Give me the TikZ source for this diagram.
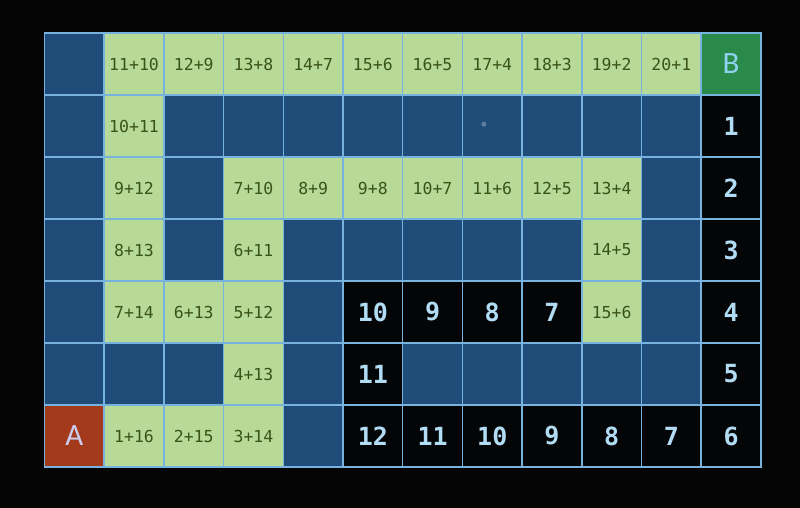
\documentclass[tikz,border=0pt]{standalone}
\usepackage{fontspec}
\newfontfamily\cellfont{DejaVu Sans Mono}
\newfontfamily\letterfont{Carlito}
\definecolor{bgc}{HTML}{050505}
\definecolor{gridc}{HTML}{78B2DE}
\definecolor{bluec}{HTML}{1F4C79}
\definecolor{greenc}{HTML}{B7DA98}
\definecolor{gtext}{HTML}{3A5318}
\definecolor{blackc}{HTML}{030507}
\definecolor{ktext}{HTML}{B2DCF4}
\definecolor{redc}{HTML}{A33A1C}
\definecolor{atext}{HTML}{CCCCF0}
\definecolor{bgreen}{HTML}{2A8A4A}
\definecolor{btext}{HTML}{8FD2F0}
\definecolor{dotc}{HTML}{5C7FA3}
\tikzset{
  cell/.style={draw=gridc, line width=1.5pt, minimum width=59.7pt, minimum height=62pt, inner sep=0pt, anchor=center},
  ucell/.style={cell, fill=bluec},
  gcell/.style={cell, fill=greenc, text=gtext, font=\cellfont\fontsize{16.5}{16.5}\selectfont},
  kcell/.style={cell, fill=blackc, text=ktext, font=\cellfont\bfseries\fontsize{25}{25}\selectfont},
  acell/.style={cell, fill=redc, text=atext, font=\letterfont\fontsize{31}{31}\selectfont},
  bcell/.style={cell, fill=bgreen, text=btext, font=\letterfont\fontsize{31}{31}\selectfont},
}
\begin{document}
\begin{tikzpicture}[x=59.7pt, y=-62pt]
\fill[bgc] (-44.5pt,33pt) rectangle (755.5pt,-475pt);
\useasboundingbox (-44.5pt,33pt) rectangle (755.5pt,-475pt);
\foreach \r/\c/\t/\s in {
 0/0/ucell/{}, 0/1/gcell/11+10, 0/2/gcell/12+9, 0/3/gcell/13+8, 0/4/gcell/14+7, 0/5/gcell/15+6, 0/6/gcell/16+5, 0/7/gcell/17+4, 0/8/gcell/18+3, 0/9/gcell/19+2, 0/10/gcell/20+1, 0/11/bcell/B,
 1/0/ucell/{}, 1/1/gcell/10+11, 1/2/ucell/{}, 1/3/ucell/{}, 1/4/ucell/{}, 1/5/ucell/{}, 1/6/ucell/{}, 1/7/ucell/{}, 1/8/ucell/{}, 1/9/ucell/{}, 1/10/ucell/{}, 1/11/kcell/1,
 2/0/ucell/{}, 2/1/gcell/9+12, 2/2/ucell/{}, 2/3/gcell/7+10, 2/4/gcell/8+9, 2/5/gcell/9+8, 2/6/gcell/10+7, 2/7/gcell/11+6, 2/8/gcell/12+5, 2/9/gcell/13+4, 2/10/ucell/{}, 2/11/kcell/2,
 3/0/ucell/{}, 3/1/gcell/8+13, 3/2/ucell/{}, 3/3/gcell/6+11, 3/4/ucell/{}, 3/5/ucell/{}, 3/6/ucell/{}, 3/7/ucell/{}, 3/8/ucell/{}, 3/9/gcell/14+5, 3/10/ucell/{}, 3/11/kcell/3,
 4/0/ucell/{}, 4/1/gcell/7+14, 4/2/gcell/6+13, 4/3/gcell/5+12, 4/4/ucell/{}, 4/5/kcell/10, 4/6/kcell/9, 4/7/kcell/8, 4/8/kcell/7, 4/9/gcell/15+6, 4/10/ucell/{}, 4/11/kcell/4,
 5/0/ucell/{}, 5/1/ucell/{}, 5/2/ucell/{}, 5/3/gcell/4+13, 5/4/ucell/{}, 5/5/kcell/11, 5/6/ucell/{}, 5/7/ucell/{}, 5/8/ucell/{}, 5/9/ucell/{}, 5/10/ucell/{}, 5/11/kcell/5,
 6/0/acell/A, 6/1/gcell/1+16, 6/2/gcell/2+15, 6/3/gcell/3+14, 6/4/ucell/{}, 6/5/kcell/12, 6/6/kcell/11, 6/7/kcell/10, 6/8/kcell/9, 6/9/kcell/8, 6/10/kcell/7, 6/11/kcell/6}
 { \node[\t] (n\r-\c) at (\c+0.5,\r+0.5) {\s}; }
\fill[dotc] (7.36,1.47) circle (2.5pt);
\end{tikzpicture}
\end{document}
